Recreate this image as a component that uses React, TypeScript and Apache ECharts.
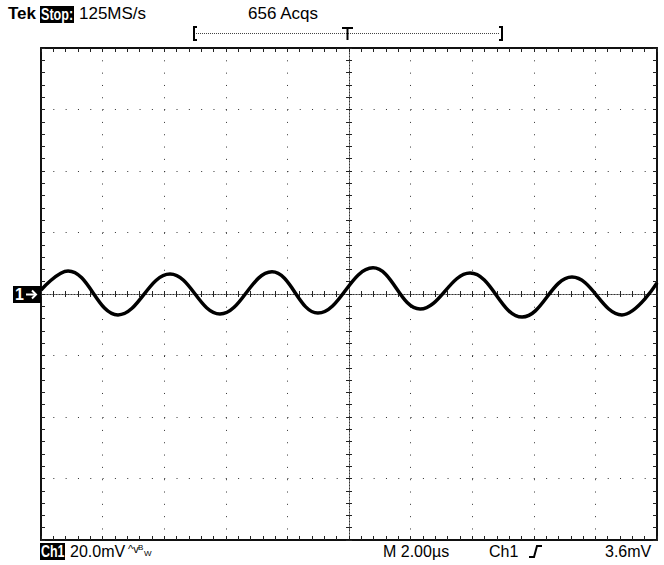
import React, { useEffect, useRef } from "react";
import * as echarts from "echarts";

// Trace extremes: time (µs, centre = 0) and voltage (mV, ground = 0)
const traceTime = [
  -10.0, -9.12, -7.5, -5.81, -4.19, -2.5, -1.01, 0.78, 2.31, 3.93, 5.62, 7.24, 8.86, 10.0,
];
const traceMv = [
  1.3, 7.5, -6.8, 6.5, -6.5, 7.2, -6.2, 8.5, -4.9, 6.8, -7.5, 5.5, -6.8, 3.6,
];

// Screen scales: 10 horizontal divisions of 2 µs, 8 vertical divisions of 20 mV
const timeRange = [-10, 10];
const timePerDiv = 2;
const voltRange = [-80, 80];
const voltPerDiv = 20;

// Readout texts
const headerTexts = ["Tek", "Stop:", "125MS/s", "656 Acqs"];
const footerTexts = ["Ch1", "20.0mV", "M 2.00µs", "Ch1", "3.6mV"];

const FONT = "'Liberation Sans', Arial, sans-serif";

export default function App() {
  const ref = useRef<HTMLDivElement>(null);

  useEffect(() => {
    document.body.style.margin = "0";
    const chart = echarts.init(ref.current!, undefined, { renderer: "svg" });

    const border = { color: "#111", width: 2 };
    const tickStyle = { color: "#222", width: 1 };
    const dotted = { color: "#333", width: 1, type: [1, 11.32] as any };
    const centreLine = { color: "#333", width: 1, type: [1, 2] as any };

    const xBase = {
      type: "value" as const,
      min: timeRange[0],
      max: timeRange[1],
      interval: timePerDiv,
      axisLabel: { show: false },
    };
    const yBase = {
      type: "value" as const,
      min: voltRange[0],
      max: voltRange[1],
      interval: voltPerDiv,
      axisLabel: { show: false },
    };

    const data = traceTime.map((t, i) => [t, traceMv[i]]);

    const txt = (x: number, y: number, text: string, size: number, opts: any = {}) => ({
      type: "text",
      x,
      y,
      z: 10,
      scaleX: opts.scaleX || 1,
      style: {
        text,
        fill: opts.fill || "#000",
        font: `${opts.bold ? "bold " : ""}${size}px ${FONT}`,
        textVerticalAlign: "top",
      },
    });

    const edgeAxis = (extra: any, split: boolean) => ({
      ...extra,
      axisLine: { show: true, onZero: false, lineStyle: border },
      axisTick: { show: true, inside: true, length: 4, lineStyle: tickStyle },
      minorTick: { show: true, splitNumber: 5, length: 4, lineStyle: tickStyle },
      splitLine: split ? { show: true, lineStyle: dotted } : { show: false },
    });
    const centreAxis = (extra: any) => ({
      ...extra,
      axisLine: { show: true, onZero: true, onZeroAxisIndex: 0, lineStyle: centreLine },
      axisTick: { show: true, inside: true, length: 3, lineStyle: tickStyle },
      minorTick: { show: true, splitNumber: 5, length: 3, lineStyle: tickStyle },
      splitLine: { show: false },
    });

    chart.setOption({
      animation: false,
      backgroundColor: "#fff",
      grid: { left: 41, top: 48, width: 616, height: 492, containLabel: false },
      xAxis: [
        edgeAxis({ ...xBase, position: "bottom" }, true),
        edgeAxis({ ...xBase, position: "top" }, false),
        centreAxis({ ...xBase, position: "bottom" }),
        centreAxis({ ...xBase, position: "top" }),
      ],
      yAxis: [
        edgeAxis({ ...yBase, position: "left" }, true),
        edgeAxis({ ...yBase, position: "right" }, false),
        centreAxis({ ...yBase, position: "left" }),
        centreAxis({ ...yBase, position: "right" }),
      ],
      series: [
        {
          type: "line",
          xAxisIndex: 0,
          yAxisIndex: 0,
          data,
          smooth: 0.4,
          symbol: "none",
          lineStyle: { color: "#000", width: 3.5 },
          z: 5,
        },
      ],
      graphic: [
        txt(8, 5, headerTexts[0], 17, { bold: true }),
        { type: "rect", shape: { x: 40, y: 6, width: 34, height: 17 }, style: { fill: "#000" }, z: 9 },
        txt(41, 5, headerTexts[1], 17, { bold: true, fill: "#fff", scaleX: 0.74 }),
        txt(79, 5, headerTexts[2], 17),
        txt(248, 5, headerTexts[3], 17),
        // record bracket with trigger position
        { type: "polyline", shape: { points: [[197, 27], [194, 27], [194, 40], [197, 40]] }, style: { stroke: "#000", lineWidth: 2, fill: null } },
        { type: "polyline", shape: { points: [[499, 27], [502, 27], [502, 40], [499, 40]] }, style: { stroke: "#000", lineWidth: 2, fill: null } },
        { type: "line", shape: { x1: 196, y1: 33.5, x2: 500, y2: 33.5 }, style: { stroke: "#444", lineWidth: 1, lineDash: [1, 1] } },
        { type: "line", shape: { x1: 342, y1: 28, x2: 353, y2: 28 }, style: { stroke: "#000", lineWidth: 2 } },
        { type: "line", shape: { x1: 347.5, y1: 28, x2: 347.5, y2: 40 }, style: { stroke: "#000", lineWidth: 2 } },
        // ground marker
        { type: "rect", shape: { x: 13, y: 286, width: 28, height: 17 }, style: { fill: "#000" }, z: 9 },
        txt(15, 286, "1", 16, { bold: true, fill: "#fff" }),
        { type: "line", shape: { x1: 26, y1: 294.5, x2: 36, y2: 294.5 }, style: { stroke: "#fff", lineWidth: 2 }, z: 10 },
        { type: "polyline", shape: { points: [[32, 290.5], [36, 294.5], [32, 298.5]] }, style: { stroke: "#fff", lineWidth: 2, fill: null }, z: 10 },
        // footer
        { type: "rect", shape: { x: 40, y: 543, width: 25, height: 17 }, style: { fill: "#000" }, z: 9 },
        txt(41, 543, footerTexts[0], 16, { bold: true, fill: "#fff", scaleX: 0.78 }),
        txt(70, 543, footerTexts[1], 16),
        txt(128, 543, "^v", 11),
        txt(138, 543, "B", 8),
        txt(144, 549, "W", 8),
        txt(383, 543, footerTexts[2], 16),
        txt(489, 543, footerTexts[3], 16),
        { type: "polyline", shape: { points: [[529, 557], [534, 557], [537, 546], [542, 546]] }, style: { stroke: "#000", lineWidth: 2, fill: null } },
        txt(605, 543, footerTexts[4], 16),
      ],
    });

    return () => chart.dispose();
  }, []);

  return <div ref={ref} style={{ width: 664, height: 565 }} />;
}
